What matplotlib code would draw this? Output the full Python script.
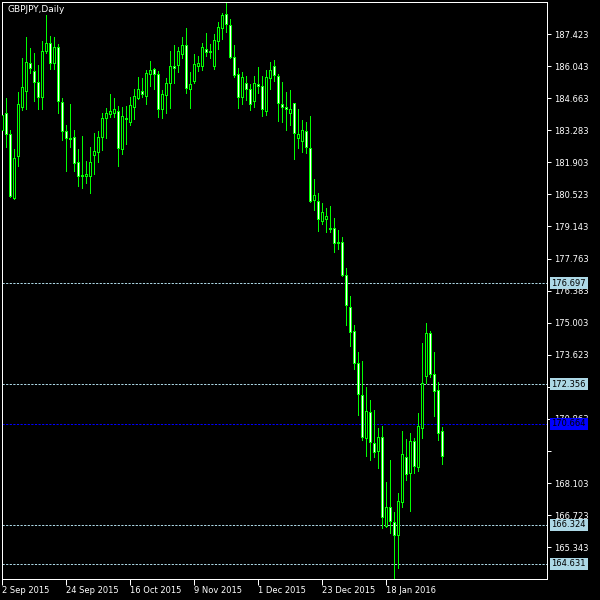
import matplotlib
matplotlib.use("Agg")
import matplotlib.pyplot as plt
import numpy as np

# GBPJPY daily candles
opens = [183.29, 184.03, 183.12, 180.37, 182.18, 184.28, 184.97, 186.18, 185.83, 185.36,
         184.71, 186.69, 187.03, 186.18, 186.86, 184.50, 183.25, 182.95, 182.99, 181.92,
         181.36, 181.31, 181.31, 182.22, 182.35, 182.99, 183.81, 183.98, 184.03, 184.11,
         182.48, 183.81, 183.64, 184.28, 184.67, 184.97, 184.76, 185.70, 185.92, 185.70,
         184.20, 184.80, 185.31, 186.05, 186.09, 186.56, 186.95, 185.06, 185.40, 186.05,
         186.05, 186.78, 186.69, 186.05, 187.12, 187.68, 188.28, 187.81, 186.43, 185.70,
         184.71, 185.31, 185.06, 184.54, 185.27, 185.19, 184.11, 185.53, 186.05, 185.62,
         184.41, 184.28, 184.03, 184.45, 182.95, 182.82, 183.25, 182.52, 180.28, 180.24,
         179.38, 179.47, 179.08, 179.08, 178.48, 178.48, 177.06, 175.68, 174.65, 173.27,
         171.89, 170.05, 171.16, 169.83, 169.49, 170.09, 166.26, 167.08, 166.43, 165.87,
         167.29, 169.23, 168.54, 169.92, 168.80, 170.48, 172.71, 174.56, 172.80, 172.11,
         170.35]
highs = [184.03, 184.67, 183.29, 182.48, 184.93, 186.39, 187.29, 186.82, 186.61, 186.09,
         187.12, 188.24, 187.34, 187.29, 186.99, 184.67, 183.51, 184.41, 183.29, 182.48,
         183.03, 181.96, 182.56, 183.16, 183.25, 184.03, 184.24, 184.84, 184.67, 184.33,
         184.28, 184.33, 184.71, 185.06, 185.57, 185.53, 185.87, 186.26, 185.96, 185.83,
         185.01, 185.53, 186.69, 186.95, 186.86, 187.29, 187.68, 185.79, 186.56, 186.48,
         187.03, 187.47, 186.99, 187.42, 187.94, 188.33, 188.76, 188.07, 186.95, 185.96,
         185.79, 185.62, 185.27, 185.62, 186.00, 185.62, 185.87, 186.22, 186.30, 185.70,
         185.36, 184.93, 185.01, 184.45, 184.20, 183.72, 183.64, 183.90, 181.19, 180.58,
         180.15, 179.94, 180.03, 179.51, 178.99, 178.69, 177.36, 176.15, 174.91, 173.75,
         173.36, 172.24, 171.68, 171.25, 170.48, 170.56, 168.15, 169.10, 166.86, 167.68,
         170.35, 170.00, 170.26, 170.05, 171.12, 174.13, 174.99, 174.65, 173.75, 172.45,
         170.52]
lows = [182.56, 182.56, 180.41, 180.33, 181.75, 184.15, 184.20, 185.75, 184.54, 184.20,
        184.20, 186.61, 185.92, 185.92, 184.03, 182.86, 181.53, 182.56, 181.53, 180.88,
        180.80, 181.01, 180.58, 181.40, 181.92, 182.43, 182.95, 183.85, 183.85, 181.75,
        182.26, 182.69, 183.51, 183.77, 184.63, 184.71, 184.41, 185.19, 185.06, 183.85,
        183.81, 184.03, 184.24, 185.31, 185.79, 186.39, 184.89, 184.24, 185.31, 185.83,
        185.87, 186.48, 186.39, 185.92, 186.78, 187.21, 187.51, 186.39, 185.57, 184.24,
        184.41, 184.58, 184.15, 184.28, 184.89, 183.90, 183.94, 185.06, 185.40, 183.68,
        183.64, 183.29, 183.51, 182.05, 182.52, 182.35, 182.30, 180.20, 179.85, 178.95,
        179.25, 178.91, 178.91, 178.05, 178.18, 177.01, 174.91, 174.00, 173.01, 171.04,
        169.96, 169.27, 169.10, 169.23, 168.76, 166.18, 166.22, 165.96, 163.90, 164.46,
        167.08, 168.24, 166.91, 168.54, 168.63, 170.05, 172.41, 172.67, 170.99, 169.96,
        168.93]
closes = [183.94, 183.12, 180.45, 182.09, 184.41, 185.14, 186.22, 185.96, 185.36, 184.71,
          186.69, 187.03, 186.18, 186.86, 184.54, 183.25, 182.95, 182.91, 181.87, 181.31,
          181.31, 181.40, 181.92, 182.39, 182.99, 183.81, 184.03, 184.11, 184.20, 182.52,
          183.90, 183.77, 184.37, 184.76, 185.06, 184.84, 185.75, 185.87, 185.70, 184.20,
          184.84, 185.31, 186.05, 185.96, 186.69, 186.95, 185.10, 185.27, 186.13, 186.18,
          186.86, 186.65, 186.65, 187.16, 187.72, 188.24, 187.85, 186.43, 185.66, 184.71,
          185.57, 185.06, 184.41, 185.31, 185.19, 184.20, 185.57, 185.87, 185.66, 184.45,
          184.28, 184.20, 184.20, 183.16, 183.12, 183.29, 182.56, 180.24, 180.50, 179.47,
          179.77, 179.60, 179.04, 178.43, 178.43, 177.06, 175.77, 174.60, 173.27, 171.94,
          170.09, 171.21, 169.87, 169.44, 170.09, 166.65, 167.07, 166.48, 165.87, 167.33,
          169.36, 168.50, 169.92, 168.84, 170.56, 172.41, 174.56, 172.80, 172.07, 170.26,
          169.27]

date_idx = [0, 16, 32, 48, 64, 80, 96]
date_labels = ["2 Sep 2015", "24 Sep 2015", "16 Oct 2015", "9 Nov 2015",
               "1 Dec 2015", "23 Dec 2015", "18 Jan 2016"]

price_ticks = [165.343, 166.723, 168.103, 169.483, 170.863, 172.243, 173.623, 175.003,
               176.383, 177.763, 179.143, 180.523, 181.903, 183.283, 184.663, 186.043, 187.423]
price_labels = ["165.343", "166.723", "168.103", "", "170.863", "172.243", "173.623", "175.003",
                "176.383", "177.763", "179.143", "180.523", "181.903", "183.283", "184.663",
                "186.043", "187.423"]

# pivot levels drawn as dashed lines with boxed labels
levels = [176.697, 172.356, 170.664, 166.324, 164.631]
level_colors = ["#add8e6", "#add8e6", "#0000ff", "#add8e6", "#add8e6"]

GREEN = "#00ff00"
PX = 0.72  # one pixel in points at dpi 100

fig = plt.figure(figsize=(6, 6), dpi=100, facecolor="black")
ax = fig.add_axes([2 / 600, 21 / 600, 545 / 600, 577 / 600], facecolor="black")

x = np.arange(len(opens))
o = np.array(opens); c = np.array(closes)
ax.vlines(x, lows, highs, color=GREEN, lw=PX, antialiased=False, zorder=2)
fill = np.where(c > o, "black", "white")
ax.bar(x, np.abs(c - o), bottom=np.minimum(o, c), width=0.5, color=fill,
       edgecolor=GREEN, linewidth=PX, antialiased=False, zorder=3)

for lv, col in zip(levels, level_colors):
    ax.axhline(lv, color=col, lw=PX, dashes=(2.2, 1.4), zorder=1)
    ax.text(1 + 4.5 / 545, lv, f"{lv:.3f}", transform=ax.get_yaxis_transform(),
            ha="left", va="center", fontsize=6, color="black", clip_on=False, zorder=6,
            bbox=dict(boxstyle="square,pad=0.18", fc=col, ec="none"))

ax.set_xlim(0, 545 / 4)
ax.set_ylim(163.98, 188.80)

ax.yaxis.tick_right()
ax.set_yticks(price_ticks)
ax.set_yticklabels(price_labels)
ax.set_xticks(date_idx)
ax.set_xticklabels(date_labels, ha="left")
ax.tick_params(axis="y", colors="white", length=3, width=PX, pad=2, labelsize=6)
ax.tick_params(axis="x", colors="white", length=4, width=PX, pad=1, labelsize=6)
for s in ax.spines.values():
    s.set_color("white"); s.set_linewidth(PX)

fig.text(7 / 600, 1 - 10 / 600, "GBPJPY,Daily", color="white", fontsize=6.5,
         ha="left", va="center")

fig.savefig("out.png", dpi=100, facecolor="black")
